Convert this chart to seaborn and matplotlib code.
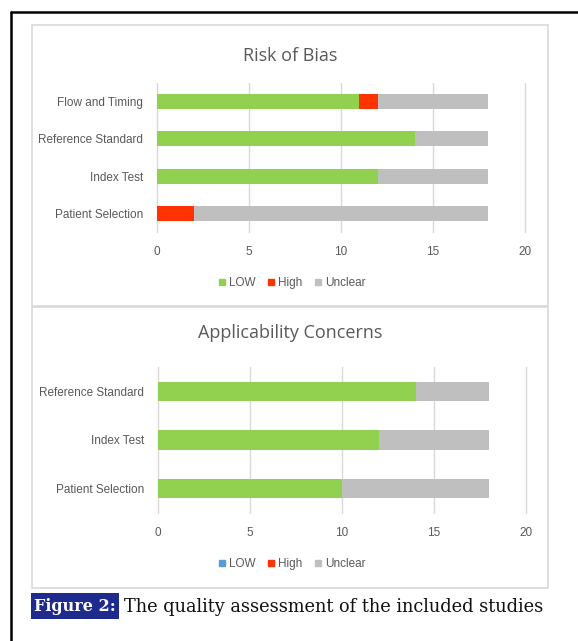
import matplotlib
matplotlib.use("Agg")
import matplotlib.pyplot as plt
import seaborn as sns
import pandas as pd
from matplotlib.patches import Rectangle
from matplotlib.lines import Line2D

# ---- data ----
rob_domains = ["Flow and Timing", "Reference Standard", "Index Test", "Patient Selection"]
rob_low = [11, 14, 12, 0]
rob_high = [1, 0, 0, 2]
rob_unclear = [6, 4, 6, 16]

app_domains = ["Reference Standard", "Index Test", "Patient Selection"]
app_low = [14, 12, 10]
app_high = [0, 0, 0]
app_unclear = [4, 6, 8]

legend_labels = ["LOW", "High", "Unclear"]
xticks = [0, 5, 10, 15, 20]

C_LOW = "#92D050"
C_HIGH = "#FF3300"
C_UNC = "#BFBFBF"
C_LOW_LEG2 = "#5B9BD5"
TXT = "#595959"
GRID = "#D9D9D9"

sns.set_theme(style="white")
plt.rcParams["font.family"] = ["Liberation Sans Narrow", "Liberation Sans", "DejaVu Sans"]

W, H = 578, 641
fig = plt.figure(figsize=(W / 100, H / 100), dpi=100)


def fx(px):
    return px / W


def fy(py):
    return 1 - py / H


def panel(ax_box, title, title_y, domains, low, high, unclear, legend_y, leg_low_color):
    x0, y0, x1, y1 = ax_box
    ax = fig.add_axes([fx(x0), fy(y1), fx(x1 - x0), (y1 - y0) / H])
    df = pd.DataFrame({"domain": domains, "low": low, "high": high, "unclear": unclear})
    df["c2"] = df["low"] + df["high"]
    df["c3"] = df["c2"] + df["unclear"]
    sns.barplot(data=df, x="c3", y="domain", order=domains, color=C_UNC, width=0.4,
                errorbar=None, ax=ax, saturation=1, orient="h", linewidth=0)
    sns.barplot(data=df, x="c2", y="domain", order=domains, color=C_HIGH, width=0.4,
                errorbar=None, ax=ax, saturation=1, orient="h", linewidth=0)
    sns.barplot(data=df, x="low", y="domain", order=domains, color=C_LOW, width=0.4,
                errorbar=None, ax=ax, saturation=1, orient="h", linewidth=0)
    ax.set_xlim(0, 20)
    ax.set_ylim(len(domains) - 0.5, -0.5)
    ax.set_xticks(xticks)
    ax.set_xticklabels([str(t) for t in xticks])
    ax.set_xlabel("")
    ax.set_ylabel("")
    for s in ax.spines.values():
        s.set_visible(False)
    ax.grid(False)
    for t in xticks:
        ax.axvline(t, color=GRID, lw=1, zorder=0, clip_on=False)
    ax.tick_params(axis="x", length=0, pad=10, labelsize=8.5, labelcolor=TXT)
    ax.tick_params(axis="y", length=0, pad=10, labelsize=8.5, labelcolor=TXT)
    ax.set_facecolor("none")
    fig.text(fx(290), fy(title_y), title, ha="center", va="center", fontsize=13,
             color=TXT, family=["Open Sans", "DejaVu Sans"])
    handles = [
        Line2D([], [], marker="s", ls="", color=leg_low_color, markersize=5),
        Line2D([], [], marker="s", ls="", color=C_HIGH, markersize=5),
        Line2D([], [], marker="s", ls="", color=C_UNC, markersize=5),
    ]
    fig.legend(handles, legend_labels, loc="center", bbox_to_anchor=(fx(292), fy(legend_y)),
               ncol=3, frameon=False, fontsize=8.5, labelcolor=TXT, handlelength=0.6,
               handletextpad=0.3, columnspacing=1.0)
    return ax


# panel borders
fig.patches.append(Rectangle((fx(32), fy(306)), fx(548 - 32), (306 - 25) / H,
                             transform=fig.transFigure, fill=False, ec="#D9D9D9", lw=1.2))
fig.patches.append(Rectangle((fx(32), fy(588)), fx(548 - 32), (588 - 307) / H,
                             transform=fig.transFigure, fill=False, ec="#D9D9D9", lw=1.2))

# outer black frame (left and top)
fig.add_artist(Line2D([fx(11), fx(11)], [0, fy(12)], color="black", lw=1.8, transform=fig.transFigure))
fig.add_artist(Line2D([fx(11), 1], [fy(12), fy(12)], color="black", lw=1.8, transform=fig.transFigure))

panel((157, 83, 525, 232), "Risk of Bias", 56, rob_domains, rob_low, rob_high, rob_unclear, 283, C_LOW)
panel((158, 367, 526, 513), "Applicability Concerns", 333, app_domains, app_low, app_high, app_unclear, 564, C_LOW_LEG2)

# caption
fig.patches.append(Rectangle((fx(31), fy(619)), fx(119 - 31), (619 - 593) / H,
                             transform=fig.transFigure, color="#1F2A8E", lw=0))
fig.text(fx(75), fy(606.5), "Figure 2:", ha="center", va="center", fontsize=11.5,
         color="white", fontweight="bold", family=["DejaVu Serif"])
fig.text(fx(124), fy(606.5), "The quality assessment of the included studies", ha="left",
         va="center", fontsize=12.8, color="#111111", family=["DejaVu Serif"])

fig.savefig("out.png", dpi=100)
